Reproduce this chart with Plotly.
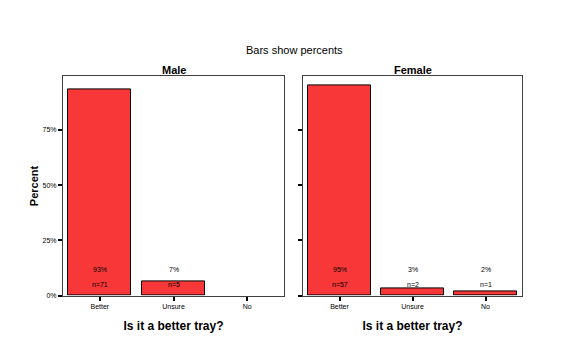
import plotly.graph_objects as go

categories = ["Better", "Unsure", "No"]
male_counts = [71, 5, 0]
female_counts = [57, 2, 1]
panels = ["Male", "Female"]
y_ticks = [0, 25, 50, 75]
y_tick_labels = ["0%", "25%", "50%", "75%"]

def pct(c):
    t = sum(c)
    return [v / t * 100 if v > 0 else None for v in c]

male_pct = pct(male_counts)
female_pct = pct(female_counts)

W, H = 571, 357
OFFX, OFFY = 7, 5
fig = go.Figure()

RED = "#F83838"
font_fam = "Liberation Sans, Arial, sans-serif"

def px_x(p):
    return (p - OFFX) / W

def px_y(p):
    return (H - (p - OFFY)) / H

doms_x = [[px_x(62), px_x(283)], [px_x(302), px_x(521)]]
dom_y = [px_y(295), px_y(74)]

for i, (counts, pcts) in enumerate([(male_counts, male_pct), (female_counts, female_pct)]):
    xa = "x" if i == 0 else "x2"
    ya = "y" if i == 0 else "y2"
    fig.add_trace(go.Bar(
        x=categories, y=pcts, xaxis=xa, yaxis=ya,
        marker=dict(color=RED, line=dict(color="black", width=1)),
        width=0.855, showlegend=False, hoverinfo="skip",
    ))
    for j, cat in enumerate(categories):
        if counts[j] == 0:
            continue
        fig.add_annotation(x=cat, y=12, xref=xa, yref=ya, text=f"{round(pcts[j])}%",
                           yanchor="middle", showarrow=False,
                           font=dict(size=7, family=font_fam, color="black"))
        fig.add_annotation(x=cat, y=5, xref=xa, yref=ya, text=f"n={counts[j]}",
                           yanchor="middle", showarrow=False,
                           font=dict(size=7, family=font_fam, color="black"))

axis_common = dict(showline=True, linecolor="#404040", linewidth=1, mirror=True,
                   showgrid=False, zeroline=False, ticks="outside", ticklen=4,
                   tickwidth=2, tickcolor="black",
                   tickfont=dict(size=7, family=font_fam, color="black"))

xt = dict(text="<b>Is it a better tray?</b>", font=dict(size=12, family=font_fam, color="black"), standoff=12)

fig.update_layout(
    width=W, height=H, margin=dict(l=0, r=0, t=0, b=0),
    paper_bgcolor="white", plot_bgcolor="white",
    bargap=0,
    xaxis=dict(domain=doms_x[0], range=[-0.5, 2.5], anchor="y", title=xt, **axis_common),
    xaxis2=dict(domain=doms_x[1], range=[-0.5, 2.5], anchor="y2", title=xt, **axis_common),
    yaxis=dict(domain=dom_y, range=[0, 99.2], anchor="x", tickvals=y_ticks, ticktext=y_tick_labels,
               title=dict(text="<b>Percent</b>", font=dict(size=11, family=font_fam, color="black"), standoff=1),
               **axis_common),
    yaxis2=dict(domain=dom_y, range=[0, 99.2], anchor="x2", tickvals=y_ticks, ticktext=["", "", "", ""],
                **axis_common),
)

fig.add_annotation(text="Bars show percents", x=px_x(293), y=px_y(47), xref="paper", yref="paper",
                   xanchor="center", yanchor="middle", showarrow=False,
                   font=dict(size=11, family=font_fam, color="black"))
for i, name in enumerate(panels):
    cx = (doms_x[i][0] + doms_x[i][1]) / 2
    fig.add_annotation(text=f"<b>{name}</b>", x=cx, y=px_y(68), xref="paper", yref="paper",
                       xanchor="center", yanchor="middle", showarrow=False,
                       font=dict(size=11, family=font_fam, color="black"))

fig.write_html("out.html")
